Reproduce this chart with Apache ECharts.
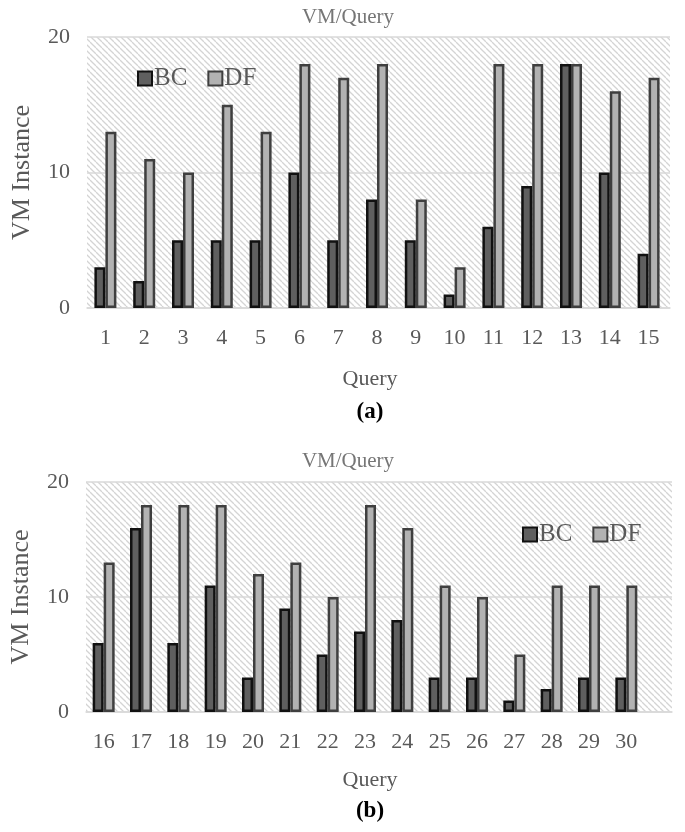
<!DOCTYPE html>
<html>
<head>
<meta charset="utf-8">
<script src="https://cdn.jsdelivr.net/npm/echarts@6/dist/echarts.min.js"></script>
<style>
html,body{margin:0;padding:0;background:#fff;}
#chart{width:685px;height:832px;}
</style>
</head>
<body>
<div id="chart"></div>
<script>
// ---- data ----
const queriesA = ['1','2','3','4','5','6','7','8','9','10','11','12','13','14','15'];
const bcA = [3, 2, 5, 5, 5, 10, 5, 8, 5, 1, 6, 9, 18, 10, 4];
const dfA = [13, 11, 10, 15, 13, 18, 17, 18, 8, 3, 18, 18, 18, 16, 17];
const queriesB = ['16','17','18','19','20','21','22','23','24','25','26','27','28','29','30'];
const bcB = [6, 16, 6, 11, 3, 9, 5, 7, 8, 3, 3, 1, 2, 3, 3];
const dfB = [13, 18, 18, 18, 12, 13, 10, 18, 16, 11, 10, 5, 11, 11, 11];
const yTicks = [0, 10, 20];

// ---- hatch pattern ----
const tile = document.createElement('canvas');
const P = 6;
tile.width = P; tile.height = P;
const ctx = tile.getContext('2d');
ctx.fillStyle = '#ffffff';
ctx.fillRect(0, 0, P, P);
ctx.strokeStyle = '#d4d4d4';
ctx.lineWidth = 1.3;
for (let k = -1; k <= 1; k++) {
  ctx.beginPath();
  ctx.moveTo(k * P, 0);
  ctx.lineTo(k * P + P, P);
  ctx.stroke();
}
const hatch = { image: tile, repeat: 'repeat' };

const FONT = "'Times New Roman', 'Liberation Serif', serif";
const LABEL = '#595959';
const GRIDC = '#d9d9d9';

const bcStyle = { color: '#5f5f5f', borderColor: '#111111', borderWidth: 2.5 };
const dfStyle = { color: '#b2b2b2', borderColor: '#3f3f3f', borderWidth: 2.5 };

function bgY(gridIndex) {
  return {
    gridIndex, type: 'value', min: yTicks[0], max: yTicks[yTicks.length - 1], interval: 10,
    name: 'VM Instance', nameLocation: 'middle', nameGap: 52,
    nameTextStyle: { fontFamily: FONT, fontSize: 26, color: LABEL },
    axisLine: { show: false }, axisTick: { show: false },
    axisLabel: { fontFamily: FONT, fontSize: 22, color: LABEL, margin: 17 },
    splitLine: { show: true, lineStyle: { color: GRIDC, width: 1.5 } }
  };
}
function bgX(gridIndex) {
  return {
    gridIndex, type: 'value', min: 0, max: 1,
    axisLine: { show: true, lineStyle: { color: GRIDC, width: 1.5 } },
    axisTick: { show: false }, axisLabel: { show: false }, splitLine: { show: false }
  };
}
function barX(gridIndex, cats) {
  return {
    gridIndex, type: 'category', data: cats,
    axisLine: { show: false }, axisTick: { show: false },
    axisLabel: { fontFamily: FONT, fontSize: 22, color: LABEL, margin: 19 },
    splitLine: { show: false }
  };
}
function barY(gridIndex) {
  return { gridIndex, type: 'value', min: 0, max: 20, interval: 10, show: false, splitLine: { show: false } };
}

const option = {
  backgroundColor: '#ffffff',
  animation: false,
  title: [
    { text: 'VM/Query', left: 343, top: 2, textAlign: 'center',
      textStyle: { fontFamily: FONT, fontSize: 21, fontWeight: 'normal', color: '#767676' } },
    { text: '(a)', left: 365, top: 396, textAlign: 'center',
      textStyle: { fontFamily: FONT, fontSize: 23, fontWeight: 'bold', color: '#000' } },
    { text: 'VM/Query', left: 343, top: 446, textAlign: 'center',
      textStyle: { fontFamily: FONT, fontSize: 21, fontWeight: 'normal', color: '#767676' } },
    { text: '(b)', left: 365, top: 795, textAlign: 'center',
      textStyle: { fontFamily: FONT, fontSize: 23, fontWeight: 'bold', color: '#000' } },
    { text: 'Query', left: 365, top: 363, textAlign: 'center',
      textStyle: { fontFamily: FONT, fontSize: 22, fontWeight: 'normal', color: LABEL } },
    { text: 'Query', left: 365, top: 764, textAlign: 'center',
      textStyle: { fontFamily: FONT, fontSize: 22, fontWeight: 'normal', color: LABEL } }
  ],
  legend: [
    { data: ['BC', 'DF'], left: 132, top: 61, itemWidth: 14, itemHeight: 14, itemGap: 20,
      icon: 'rect', textStyle: { fontFamily: FONT, fontSize: 25, color: LABEL, padding: [0, 0, 0, -3] } },
    { data: ['BC', 'DF'], left: 517, top: 517, itemWidth: 14, itemHeight: 14, itemGap: 20,
      icon: 'rect', textStyle: { fontFamily: FONT, fontSize: 25, color: LABEL, padding: [0, 0, 0, -3] } }
  ],
  grid: [
    { left: 87, right: 15, top: 37, height: 271, show: true, backgroundColor: hatch, borderWidth: 0 },
    { left: 86, right: 17, top: 37, height: 271 },
    { left: 85, right: 13, top: 482, height: 230, show: true, backgroundColor: hatch, borderWidth: 0 },
    { left: 85, right: 40, top: 482, height: 230 }
  ],
  xAxis: [ bgX(0), barX(1, queriesA), bgX(2), barX(3, queriesB) ],
  yAxis: [ bgY(0), barY(1), bgY(2), barY(3) ],
  series: [
    { name: 'BC', type: 'bar', xAxisIndex: 1, yAxisIndex: 1, data: bcA, barWidth: 11, barGap: '0%', itemStyle: bcStyle },
    { name: 'DF', type: 'bar', xAxisIndex: 1, yAxisIndex: 1, data: dfA, barWidth: 11, barGap: '0%', itemStyle: dfStyle },
    { name: 'BC', type: 'bar', xAxisIndex: 3, yAxisIndex: 3, data: bcB, barWidth: 11, barGap: '0%', itemStyle: bcStyle },
    { name: 'DF', type: 'bar', xAxisIndex: 3, yAxisIndex: 3, data: dfB, barWidth: 11, barGap: '0%', itemStyle: dfStyle }
  ]
};

const chart = echarts.init(document.getElementById('chart'), null, { renderer: 'canvas' });
chart.setOption(option);
</script>
</body>
</html>
